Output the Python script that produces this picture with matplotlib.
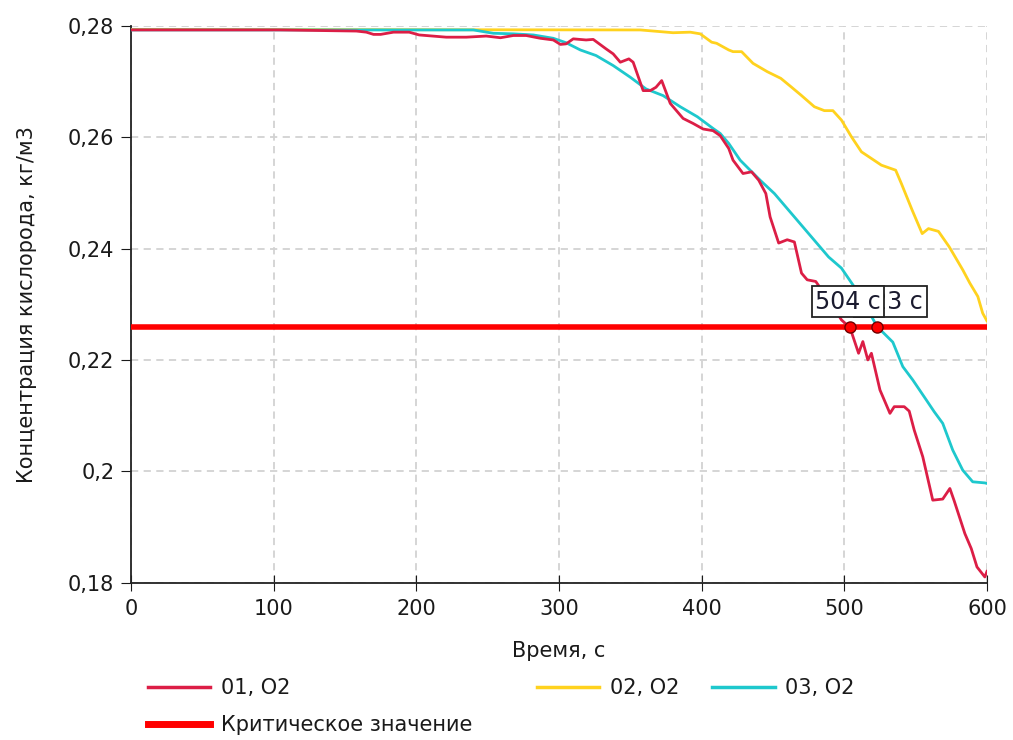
import matplotlib
matplotlib.use("Agg")
import matplotlib.pyplot as plt
from matplotlib.lines import Line2D

plt.rcParams["font.family"] = ["DejaVu Sans"]

# --- data ---
t_01 = [0, 104, 158, 165, 170, 175, 184, 195, 202, 221, 235, 249, 259, 268, 277,
        287, 296, 301, 305, 310, 319, 324, 333, 338, 343, 349, 352, 359, 364, 368,
        372, 378, 387, 394, 401, 408, 413, 419, 422, 429, 435, 440, 445, 448, 454,
        460, 465, 470, 474, 480, 487, 493, 498, 504, 510, 513, 516.5, 519, 525,
        532, 535, 542, 545.5, 549, 555, 562, 569, 574, 577, 584.5, 589, 593,
        598.5, 600]
o2_01 = [0.2793, 0.2793, 0.2791, 0.2789, 0.2785, 0.2785, 0.2789, 0.2789, 0.2784,
         0.2780, 0.2780, 0.2782, 0.2779, 0.2783, 0.2783, 0.2778, 0.2775, 0.2767,
         0.2768, 0.2777, 0.2775, 0.2776, 0.2759, 0.2750, 0.2735, 0.2741, 0.2735,
         0.2684, 0.2684, 0.2690, 0.2702, 0.2661, 0.2634, 0.2625, 0.2615, 0.2612,
         0.2603, 0.2580, 0.2559, 0.2535, 0.2538, 0.2523, 0.2499, 0.2457, 0.2410,
         0.2416, 0.2412, 0.2356, 0.2344, 0.2341, 0.2315, 0.2292, 0.2272, 0.2258,
         0.2212, 0.2233, 0.2200, 0.2212, 0.2146, 0.2104, 0.2116, 0.2116, 0.2108,
         0.2074, 0.2026, 0.1948, 0.1950, 0.1969, 0.1947, 0.1888, 0.1861, 0.1828,
         0.1810, 0.1820]

t_02 = [0, 357, 380, 392, 399, 407, 410.5, 419, 422, 428, 436, 446, 455.5, 462.6,
        469.6, 479, 486, 492, 498, 505, 512, 519, 526, 536, 540, 547.6, 554.6,
        559, 566, 573.6, 583, 588, 593.6, 597, 600]
o2_02 = [0.2794, 0.2793, 0.2788, 0.2789, 0.2786, 0.2771, 0.2769, 0.2757, 0.2754,
         0.2754, 0.2733, 0.2718, 0.2706, 0.2691, 0.2676, 0.2655, 0.2648, 0.2648,
         0.2631, 0.2601, 0.2574, 0.2562, 0.2550, 0.2541, 0.2517, 0.2469, 0.2427,
         0.2436, 0.2431, 0.2403, 0.2362, 0.2338, 0.2314, 0.2284, 0.2270]

t_03 = [0, 240, 254, 268, 282, 296, 305, 315, 326, 338, 350, 361, 373, 385, 397,
        408, 413, 419, 427, 441, 451, 463, 475, 489, 498, 510, 523, 534, 541, 548,
        557.5, 563, 569, 576, 583, 590, 598.6, 600]
o2_03 = [0.2793, 0.2793, 0.2787, 0.2786, 0.2784, 0.2778, 0.2770, 0.2757, 0.2747,
         0.2729, 0.2708, 0.2687, 0.2675, 0.2655, 0.2637, 0.2616, 0.2607, 0.2589,
         0.2559, 0.2523, 0.2499, 0.2463, 0.2427, 0.2385, 0.2365, 0.2320, 0.2260,
         0.2232, 0.2188, 0.2164, 0.2128, 0.2107, 0.2086, 0.2038, 0.2002, 0.1981,
         0.1979, 0.1978]

critical_value = 0.226
cross_times = [504, 523]
cross_labels = ["504 с", "523 с"]

x_ticks = [0, 100, 200, 300, 400, 500, 600]
y_ticks = [0.18, 0.20, 0.22, 0.24, 0.26, 0.28]
y_tick_labels = ["0,18", "0,2", "0,22", "0,24", "0,26", "0,28"]

C_01 = "#dc1e46"
C_02 = "#ffd21e"
C_03 = "#1ec8cd"
C_CRIT = "#ff0000"
FS = 15

fig = plt.figure(figsize=(10.13, 7.40), dpi=100)
ax = fig.add_axes([0.1293, 0.2128, 0.845, 0.752])

ax.plot(t_02, o2_02, color=C_02, lw=2.0, zorder=3)
ax.plot(t_03, o2_03, color=C_03, lw=2.0, zorder=4)
ax.plot(t_01, o2_01, color=C_01, lw=2.0, zorder=5)
ax.axhline(critical_value, color=C_CRIT, lw=4, zorder=6)

ax.plot(cross_times, [critical_value] * len(cross_times), "o", ms=8,
        mfc="#ff0000", mec="#700000", mew=1.0, zorder=8)

# labels: second box sits under the first one, as in the original
offsets = [(-2, 25), (13, 25)]
for i, (tc, lab) in enumerate(zip(cross_times, cross_labels)):
    ax.annotate(lab, xy=(tc, critical_value), xytext=offsets[i],
                textcoords="offset pixels", ha="center", va="center",
                fontsize=17, color="#1a1a2e", zorder=10 - i,
                bbox=dict(boxstyle="square,pad=0.15", fc="white", ec="#222222", lw=1.3))

ax.set_xlim(0, 600)
ax.set_ylim(0.18, 0.28)
ax.set_xticks(x_ticks)
ax.set_yticks(y_ticks)
ax.set_yticklabels(y_tick_labels)
ax.tick_params(axis="both", labelsize=FS, colors="#1a1a1a")
ax.tick_params(axis="x", direction="inout", length=11, pad=6)
ax.tick_params(axis="y", direction="out", length=7, pad=5)

for side in ["top", "right"]:
    ax.spines[side].set_visible(False)
for side in ["left", "bottom"]:
    ax.spines[side].set_color("#222222")
    ax.spines[side].set_linewidth(1.3)

ax.grid(True, color="#d2d2d2", linestyle=(0, (4, 3)), linewidth=1.3, zorder=0)
ax.set_axisbelow(True)

ax.set_xlabel("Время, с", fontsize=FS, color="#1a1a1a", labelpad=16)
ax.set_ylabel("Концентрация кислорода, кг/м3", fontsize=FS, color="#1a1a1a", labelpad=22)

# legend laid out like the original: three series on row one, critical on row two
entries = [
    (Line2D([], [], color=C_01, lw=2.5), "01, O2", 0.146, 0.070),
    (Line2D([], [], color=C_02, lw=2.5), "02, O2", 0.530, 0.070),
    (Line2D([], [], color=C_03, lw=2.5), "03, O2", 0.703, 0.070),
    (Line2D([], [], color=C_CRIT, lw=5), "Критическое значение", 0.146, 0.020),
]
for handle, text, lx, ly in entries:
    leg = fig.legend([handle], [text], loc="center left", bbox_to_anchor=(lx, ly),
                     frameon=False, fontsize=FS, handlelength=3.0, handletextpad=0.5,
                     borderpad=0, borderaxespad=0)
    for txt in leg.get_texts():
        txt.set_color("#1a1a1a")

fig.savefig("out.png", dpi=100)
